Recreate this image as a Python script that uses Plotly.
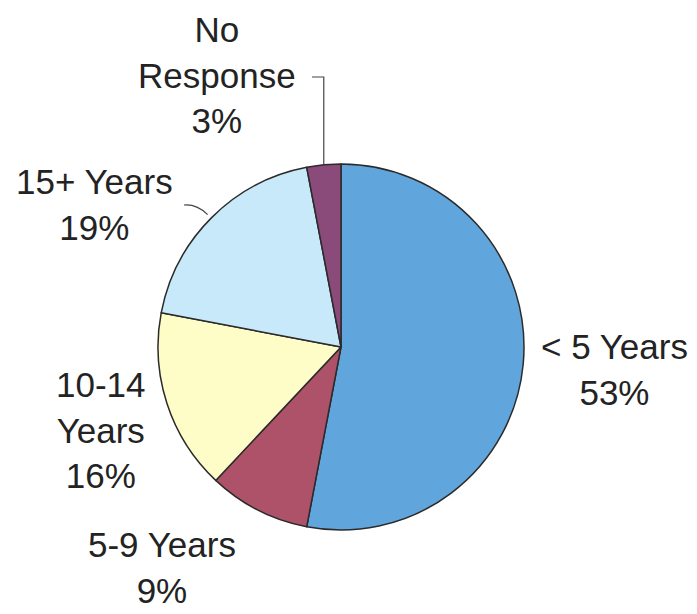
import math
import plotly.graph_objects as go

# Survey breakdown: years of experience
labels = ["< 5 Years", "5-9 Years", "10-14 Years", "15+ Years", "No Response"]
label_text = ["< 5 Years", "5-9 Years", "10-14<br>Years", "15+ Years", "No<br>Response"]
values = [53, 9, 16, 19, 3]
colors = ["#60A6DC", "#AE5269", "#FFFDC7", "#C7E9FA", "#8B4B7A"]

W, H = 697, 614
CX, CY, R = 341, 347, 183  # pie centre and radius in pixels


def px(x):
    return x / W


def py(y):
    return 1 - y / H


fig = go.Figure(go.Pie(
    labels=labels,
    values=values,
    sort=False,
    direction="clockwise",
    rotation=0,
    marker=dict(colors=colors, line=dict(color="#2b2b2b", width=1.5)),
    textinfo="none",
    hoverinfo="label+percent",
    domain=dict(x=[px(CX - R), px(CX + R)], y=[py(CY + R), py(CY - R)]),
    showlegend=False,
))

# Label placement (text block centres, pixels)
label_pos = {
    "< 5 Years": (614, 369),
    "5-9 Years": (162, 567),
    "10-14 Years": (101, 430),
    "15+ Years": (94, 205),
    "No Response": (217, 75),
}

total = sum(values)
annotations = []
for name, txt, v in zip(labels, label_text, values):
    pct = round(100 * v / total)
    x, y = label_pos[name]
    annotations.append(dict(
        x=px(x), y=py(y), xref="paper", yref="paper",
        text=f"{txt}<br>{pct}%", showarrow=False,
        xanchor="center", yanchor="middle",
        font=dict(family="Liberation Sans, Arial, sans-serif", size=35, color="#232323"),
    ))


def edge_point(idx):
    """Point on the pie rim at the middle of slice idx."""
    start = sum(values[:idx]) / total
    mid = start + values[idx] / total / 2
    ang = 2 * math.pi * mid  # clockwise from 12 o'clock
    return CX + R * math.sin(ang), CY - R * math.cos(ang)


shapes = []
# Leader for "No Response"
ex, ey = edge_point(4)
shapes.append(dict(
    type="path", xref="paper", yref="paper",
    path=f"M {px(312)} {py(77)} L {px(ex)} {py(77)} L {px(ex)} {py(ey)}",
    line=dict(color="#444", width=1.2),
))
# Leader for "15+ Years"
ex, ey = edge_point(3)
shapes.append(dict(
    type="path", xref="paper", yref="paper",
    path=f"M {px(184)} {py(205)} Q {px(197)} {py(204)} {px(ex - 4)} {py(ey - 3)}",
    line=dict(color="#444", width=1.2),
))

fig.update_layout(
    width=W, height=H,
    margin=dict(l=0, r=0, t=0, b=0),
    paper_bgcolor="white",
    plot_bgcolor="white",
    annotations=annotations,
    shapes=shapes,
)

fig.write_html("out.html")
